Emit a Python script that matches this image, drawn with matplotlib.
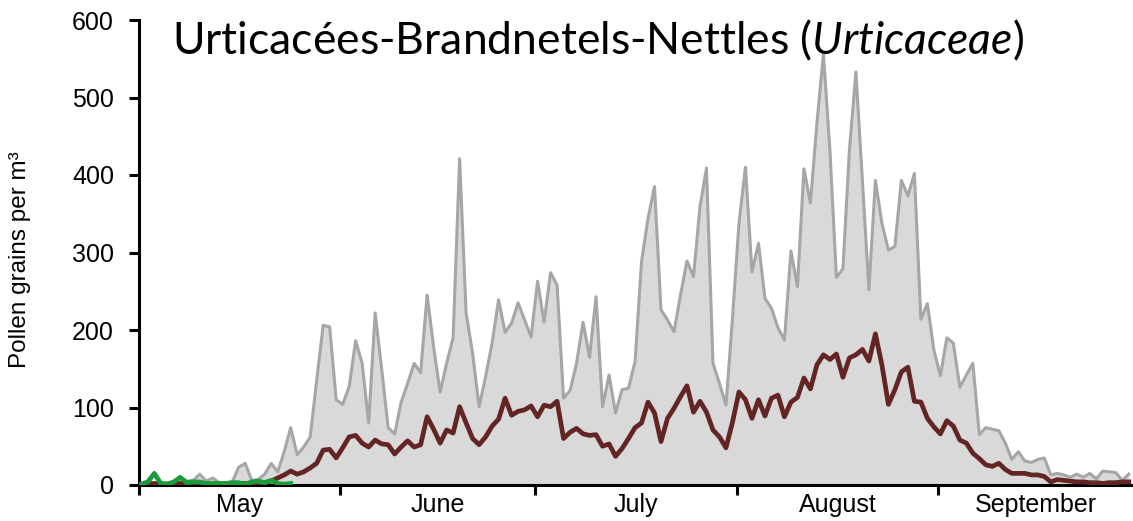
import numpy as np
import matplotlib
matplotlib.use("Agg")
import matplotlib.pyplot as plt

# Daily values, 1 May .. 30 September (153 days)
max_vals = [1, 3, 3, 2, 3, 4, 3, 5, 6, 14, 5, 9, 3, 3, 4, 23, 28, 6, 7, 14,
            28, 17, 43, 74, 39, 49, 62, 135, 206, 204, 110, 104, 127, 186, 157, 80, 222, 150, 74, 66,
            107, 131, 157, 145, 245, 178, 120, 157, 190, 421, 222, 170, 101, 140, 183, 239, 197, 209, 235, 213,
            191, 263, 210, 274, 258, 112, 122, 157, 210, 165, 243, 101, 142, 93, 123, 125, 159, 288, 344, 385,
            226, 213, 198, 245, 289, 269, 359, 409, 157, 131, 103, 215, 338, 410, 275, 312, 241, 228, 203, 187,
            302, 256, 408, 364, 467, 556, 432, 268, 279, 432, 533, 393, 252, 393, 338, 303, 308, 393, 373, 402,
            214, 234, 174, 141, 190, 183, 126, 142, 157, 65, 74, 72, 70, 54, 33, 43, 31, 29, 33, 35,
            13, 15, 13, 10, 14, 10, 15, 8, 18, 17, 16, 6, 14]

mean_vals = [1, 1, 2, 1, 1, 2, 2, 1, 2, 2, 2, 1, 1, 1, 1, 2, 2, 2, 3, 3,
             5, 9, 13, 18, 14, 17, 22, 28, 45, 46, 35, 48, 62, 64, 54, 49, 58, 53, 52, 40,
             49, 57, 49, 52, 88, 72, 54, 71, 67, 101, 80, 60, 52, 62, 76, 85, 112, 90, 95, 97,
             102, 88, 103, 101, 108, 60, 68, 73, 66, 64, 65, 50, 53, 37, 47, 60, 74, 80, 107, 93,
             56, 86, 99, 114, 128, 94, 108, 94, 71, 62, 48, 81, 120, 110, 86, 110, 89, 112, 116, 88,
             107, 113, 138, 124, 155, 168, 162, 169, 139, 164, 168, 175, 160, 195, 155, 104, 123, 146, 152, 108,
             107, 86, 75, 66, 83, 76, 58, 54, 41, 34, 26, 24, 28, 20, 15, 15, 15, 13, 13, 11,
             4, 7, 6, 5, 4, 4, 3, 3, 2, 3, 3, 4, 4]

current_vals = [1, 4, 15, 2, 1, 4, 10, 3, 4, 4, 2, 2, 2, 2, 3, 3, 1, 4, 5, 3, 6, 2, 1, 2]

months = ["May", "June", "July", "August", "September"]
month_days = [31, 30, 31, 31, 30]

plt.rcParams['font.family'] = ['Liberation Sans', 'DejaVu Sans']
plt.rcParams['mathtext.fontset'] = 'custom'
plt.rcParams['mathtext.rm'] = 'Lato'
plt.rcParams['mathtext.it'] = 'Lato:italic'

fig = plt.figure(figsize=(11.33, 5.21), dpi=100)
ax = fig.add_axes([139 / 1133, 36 / 521, 994 / 1133, 465 / 521])

x_max = np.arange(len(max_vals)) + 0.35
x_cur = np.arange(len(current_vals)) + 0.35

ax.fill_between(x_max, 0, max_vals, color='#d9d9d9', lw=0, zorder=1)
ax.plot(x_max, max_vals, color='#a6a6a6', lw=2.2, zorder=2)
ax.plot(x_max, mean_vals, color='#632523', lw=3.4, zorder=3)
ax.plot(x_cur, current_vals, color='#1a9c3a', lw=3.4, zorder=4)

ax.set_xlim(0, sum(month_days))
ax.set_ylim(0, 600)

bounds = np.concatenate([[0], np.cumsum(month_days)])
ax.set_xticks(bounds[:-1])
ax.set_xticklabels([])
centers = (bounds[:-1] + bounds[1:]) / 2
ax.set_xticks(centers, minor=True)
ax.set_xticklabels(months, minor=True, fontsize=18)
ax.tick_params(axis='x', which='major', length=7, width=2.2, direction='out')
ax.tick_params(axis='x', which='minor', length=0, pad=6)

ax.set_yticks(np.arange(0, 601, 100))
ax.tick_params(axis='y', length=7, width=2.2, direction='out', labelsize=18, pad=11)

for s in ['top', 'right']:
    ax.spines[s].set_visible(False)
ax.spines['left'].set_linewidth(2.2)
ax.spines['bottom'].set_linewidth(2.2)

ax.set_ylabel("Pollen grains per m³", fontsize=17.5)
ax.yaxis.set_label_coords(-0.1087, 0.485)

ax.text(0.033, 1.005, r"Urticacées-Brandnetels-Nettles ($\mathit{Urticaceae}$)",
        transform=ax.transAxes, fontsize=32, family='Lato', va='top', ha='left')

fig.savefig("out.png", dpi=100)
